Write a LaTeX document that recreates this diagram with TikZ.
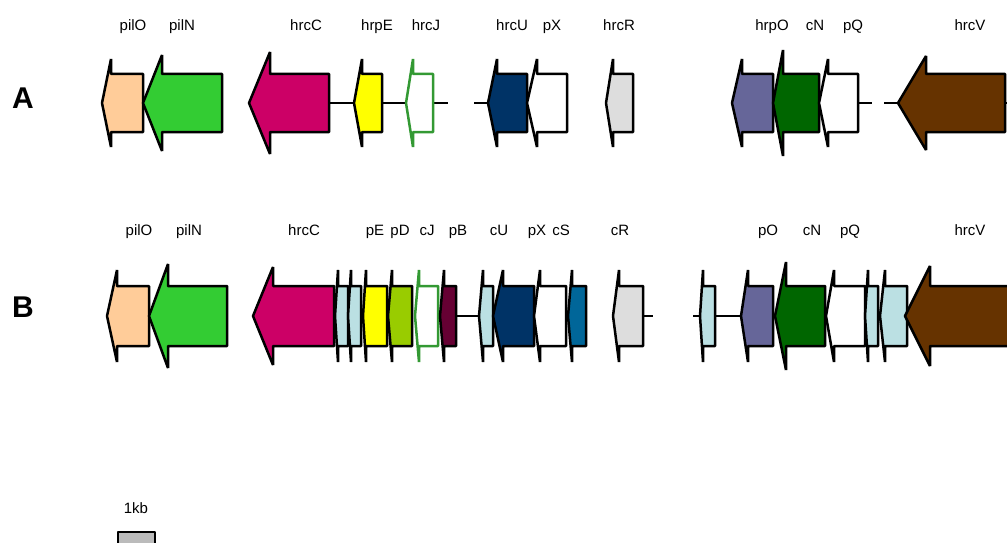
\documentclass[tikz,border=0pt]{standalone}
\usepackage{fontspec}
\setmainfont{Liberation Sans}
\definecolor{cpeach}{HTML}{FFCC99}
\definecolor{cgreen}{HTML}{33CC33}
\definecolor{cmag}{HTML}{CC0066}
\definecolor{cyel}{HTML}{FFFF00}
\definecolor{cnavy}{HTML}{003366}
\definecolor{cgray}{HTML}{DDDDDD}
\definecolor{cpurp}{HTML}{666699}
\definecolor{cdgreen}{HTML}{006600}
\definecolor{cbrown}{HTML}{663300}
\definecolor{clblue}{HTML}{BBE0E3}
\definecolor{clime}{HTML}{99CC00}
\definecolor{cmaroon}{HTML}{660033}
\definecolor{cteal}{HTML}{006699}
\definecolor{cjgreen}{HTML}{339933}
\definecolor{cscale}{HTML}{BBBBBB}
% #1 name, #2 tip x, #3 barb x, #4 tail x, #5 mid y, #6 body half, #7 barb half, #8 style
\newcommand\genearrow[8]{%
  \draw[genebox,#8] (#2,#5) -- (#3,#5-#7) -- (#3,#5-#6) -- (#4,#5-#6) -- (#4,#5+#6)
     -- (#3,#5+#6) -- (#3,#5+#7) -- cycle;
  \coordinate (#1-tip) at (#2,#5);
  \coordinate (#1-tail) at (#4,#5);
}
\tikzset{
  genebox/.style={draw=black, line width=2.5pt, line join=bevel},
  linker/.style={draw=black, line width=2pt},
  lbl/.style={font=\fontsize{15}{18}\selectfont, anchor=base, inner sep=0pt},
  rowlbl/.style={font=\fontsize{30}{36}\selectfont\bfseries, anchor=base, inner sep=0pt}
}
\begin{document}
\begin{tikzpicture}[x=1pt,y=-1pt]
\useasboundingbox (0,0) rectangle (1007,543);
\clip (0,0) rectangle (1007,543);

\node[rowlbl] (rowA) at (23,108) {A};
\node[rowlbl] (rowB) at (23,317) {B};

% ---------- Row A ----------
\coordinate (a1) at (448,103);
\coordinate (a2) at (474,103);
\coordinate (a3) at (872,103);
\coordinate (a4) at (884,103);
\coordinate (a5) at (1012,103);
\coordinate (aHrcCt) at (329,103);
\coordinate (aHrpEh) at (354,103);
\coordinate (aHrpEt) at (382,103);
\coordinate (aHrcJh) at (406,103);
\coordinate (aHrcJt) at (433,103);
\coordinate (aHrcUh) at (488,103);
\coordinate (aPQt) at (858,103);
\coordinate (aHrcVh) at (898,103);
\coordinate (aHrcVt) at (1005,103);
\draw[linker] (aHrcCt) -- (aHrpEh);
\draw[linker] (aHrpEt) -- (aHrcJh);
\draw[linker] (aHrcJt) -- (a1);
\draw[linker] (a2) -- (aHrcUh);
\draw[linker] (aPQt) -- (a3);
\draw[linker] (a4) -- (aHrcVh);
\draw[linker] (aHrcVt) -- (a5);

\genearrow{apilO}{102}{111}{143}{103}{29}{44}{fill=cpeach}
\genearrow{apilN}{143}{162}{222}{103}{29}{48}{fill=cgreen}
\genearrow{ahrcC}{249}{270}{329}{103}{29}{51}{fill=cmag}
\genearrow{ahrpE}{354}{362}{382}{103}{29}{44}{fill=cyel}
\genearrow{ahrcJ}{406}{413}{433}{103}{29}{44}{fill=white,draw=cjgreen}
\genearrow{ahrcU}{488}{497}{527}{103}{29}{44}{fill=cnavy}
\genearrow{apX}{527}{537}{567}{103}{29}{44}{fill=white}
\genearrow{ahrcR}{606}{613}{633}{103}{29}{44}{fill=cgray}
\genearrow{ahrpO}{732}{742}{773}{103}{29}{44}{fill=cpurp}
\genearrow{acN}{773}{783}{819}{103}{29}{53}{fill=cdgreen}
\genearrow{apQ}{819}{828}{858}{103}{29}{44}{fill=white}
\genearrow{ahrcV}{898}{926}{1005}{103}{29}{47}{fill=cbrown}

\node[lbl] (lApilO) at (133,31) {pilO};
\node[lbl] (lApilN) at (182,31) {pilN};
\node[lbl] (lAhrcC) at (306,31) {hrcC};
\node[lbl] (lAhrpE) at (377,31) {hrpE};
\node[lbl] (lAhrcJ) at (426,31) {hrcJ};
\node[lbl] (lAhrcU) at (512,31) {hrcU};
\node[lbl] (lApX) at (552,31) {pX};
\node[lbl] (lAhrcR) at (619,31) {hrcR};
\node[lbl] (lAhrpO) at (772,31) {hrpO};
\node[lbl] (lAcN) at (815,31) {cN};
\node[lbl] (lApQ) at (853,31) {pQ};
\node[lbl] (lAhrcV) at (970,31) {hrcV};

% ---------- Row B ----------
\coordinate (bPBt) at (456,316);
\coordinate (bCUh) at (479,316);
\coordinate (bCRt) at (643,316);
\coordinate (b1) at (653,316);
\coordinate (b2) at (693,316);
\coordinate (bLBh) at (700,316);
\coordinate (bLBt) at (715,316);
\coordinate (bPOh) at (741,316);
\draw[linker] (bPBt) -- (bCUh);
\draw[linker] (bCRt) -- (b1);
\draw[linker] (b2) -- (bLBh);
\draw[linker] (bLBt) -- (bPOh);

\genearrow{bpilO}{107}{117}{149}{316}{30}{46}{fill=cpeach}
\genearrow{bpilN}{149}{168}{227}{316}{30}{52}{fill=cgreen}
\genearrow{bhrcC}{253}{273}{334}{316}{30}{49}{fill=cmag}
\genearrow{blb1}{335}{338}{348}{316}{30}{46}{fill=clblue}
\genearrow{blb2}{348}{351}{361}{316}{30}{46}{fill=clblue}
\genearrow{bpE}{363}{366}{387}{316}{30}{46}{fill=cyel}
\genearrow{bpD}{388}{392}{412}{316}{30}{46}{fill=clime}
\genearrow{bcJ}{415}{419}{438}{316}{30}{46}{fill=white,draw=cjgreen}
\genearrow{bpB}{440}{444}{456}{316}{30}{46}{fill=cmaroon}
\genearrow{bcU}{479}{483}{493}{316}{30}{46}{fill=clblue}
\genearrow{bhrcU}{493}{503}{534}{316}{30}{46}{fill=cnavy}
\genearrow{bpX}{534}{540}{566}{316}{30}{46}{fill=white}
\genearrow{bcS}{568}{572}{586}{316}{30}{46}{fill=cteal}
\genearrow{bcR}{613}{619}{643}{316}{30}{46}{fill=cgray}
\genearrow{blb3}{700}{703}{715}{316}{30}{46}{fill=clblue}
\genearrow{bpO}{741}{748}{773}{316}{30}{46}{fill=cpurp}
\genearrow{bcN}{775}{786}{825}{316}{30}{54}{fill=cdgreen}
\genearrow{bpQ}{826}{834}{865}{316}{30}{46}{fill=white}
\genearrow{blb4}{865}{868}{878}{316}{30}{46}{fill=clblue}
\genearrow{blb5}{880}{885}{907}{316}{30}{46}{fill=clblue}
\genearrow{bhrcV}{905}{930}{1020}{316}{30}{50}{fill=cbrown}

\node[lbl] (lBpilO) at (139,235) {pilO};
\node[lbl] (lBpilN) at (189,235) {pilN};
\node[lbl] (lBhrcC) at (304,235) {hrcC};
\node[lbl] (lBpE) at (375,235) {pE};
\node[lbl] (lBpD) at (400,235) {pD};
\node[lbl] (lBcJ) at (427,235) {cJ};
\node[lbl] (lBpB) at (458,235) {pB};
\node[lbl] (lBcU) at (499,235) {cU};
\node[lbl] (lBpX) at (537,235) {pX};
\node[lbl] (lBcS) at (561,235) {cS};
\node[lbl] (lBcR) at (620,235) {cR};
\node[lbl] (lBpO) at (768,235) {pO};
\node[lbl] (lBcN) at (812,235) {cN};
\node[lbl] (lBpQ) at (850,235) {pQ};
\node[lbl] (lBhrcV) at (970,235) {hrcV};

% ---------- scale ----------
\node[lbl] (lkb) at (136,513) {1kb};
\draw[genebox,fill=cscale] (118,560) -- (118,532) -- (155,532) -- (155,560);
\end{tikzpicture}
\end{document}
